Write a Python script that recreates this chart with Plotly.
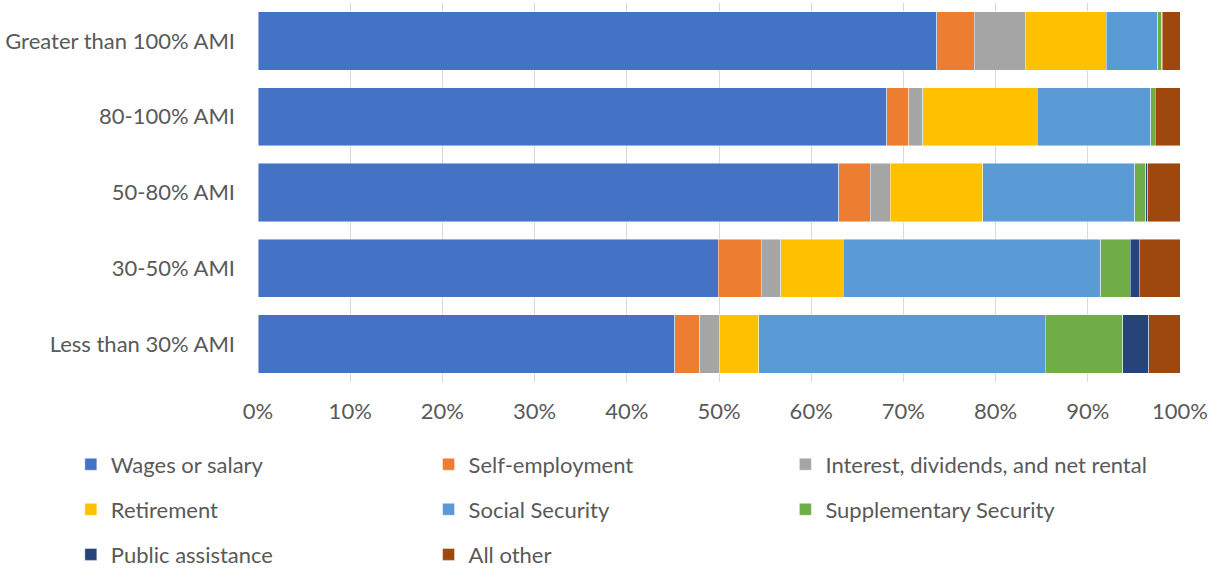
import plotly.graph_objects as go

# income groups, top to bottom as in the chart
groups = ["Greater than 100% AMI", "80-100% AMI", "50-80% AMI", "30-50% AMI", "Less than 30% AMI"]

# share of income by source (%), same order as groups
wages = [73.6, 68.2, 63.0, 49.9, 45.2]
self_emp = [4.1, 2.4, 3.4, 4.7, 2.7]
interest = [5.5, 1.5, 2.2, 2.1, 2.1]
retirement = [8.8, 12.4, 10.0, 6.8, 4.3]
social_sec = [5.6, 12.3, 16.5, 27.9, 31.1]
supp_sec = [0.4, 0.5, 1.2, 3.2, 8.4]
public_asst = [0.05, 0.0, 0.2, 1.0, 2.8]
all_other = [1.95, 2.7, 3.5, 4.4, 3.4]

# legend laid out in three columns, as in the original
series = [
    ("Wages or salary", wages, "#4472C4", "legend"),
    ("Self-employment", self_emp, "#ED7D31", "legend2"),
    ("Interest, dividends, and net rental", interest, "#A5A5A5", "legend3"),
    ("Retirement", retirement, "#FFC000", "legend"),
    ("Social Security", social_sec, "#5B9BD5", "legend2"),
    ("Supplementary Security", supp_sec, "#70AD47", "legend3"),
    ("Public assistance", public_asst, "#264478", "legend"),
    ("All other", all_other, "#9E480E", "legend2"),
]

FONT = "Lato, 'Open Sans', sans-serif"
GREY = "#595959"

fig = go.Figure()
for name, vals, color, leg in series:
    fig.add_trace(go.Bar(
        y=groups, x=vals, name=name, orientation="h",
        marker=dict(color=color, line=dict(color="rgba(255,255,255,0.6)", width=0.75)),
        legend=leg, legendgroup=name,
    ))

# each trace is its own legend group so tracegroupgap spaces the rows
leg_common = dict(
    orientation="v", traceorder="grouped", tracegroupgap=13.5,
    font=dict(size=22, color=GREY, family=FONT),
    y=-0.162, yanchor="top", xanchor="left", bgcolor="rgba(0,0,0,0)",
    itemclick=False, itemdoubleclick=False,
)

fig.update_layout(
    barmode="stack",
    bargap=0.23,
    width=1214, height=569,
    # fixed margins: the legends must not squeeze the plot area
    margin=dict(l=258, r=34, t=3, b=187, autoexpand=False),
    plot_bgcolor="white", paper_bgcolor="white",
    font=dict(family=FONT, color=GREY),
    xaxis=dict(
        range=[0, 100], dtick=10, ticksuffix="%",
        showgrid=True, gridcolor="#D9D9D9", gridwidth=1,
        zeroline=False, showline=False, automargin=False,
        tickfont=dict(size=22, color=GREY),
        ticks="", ticklabelstandoff=14,
    ),
    yaxis=dict(
        autorange="reversed", showgrid=False, showline=False, automargin=False,
        tickfont=dict(size=22, color=GREY), ticks="", ticklabelstandoff=22,
    ),
    legend=dict(leg_common, x=-0.203),
    legend2=dict(leg_common, x=0.185),
    legend3=dict(leg_common, x=0.572),
)

# drop the page's default 8px body margin so the figure fills the window
fig.write_html("out.html", config={"displayModeBar": False},
               post_script="document.body.style.margin='0';")
